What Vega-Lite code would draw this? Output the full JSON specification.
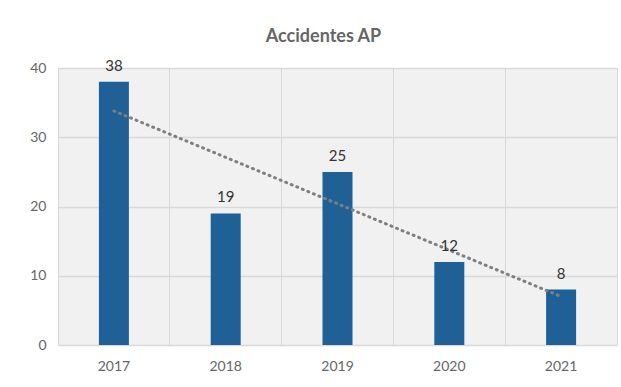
{
  "$schema": "https://vega.github.io/schema/vega-lite/v6.json",
  "width": 559,
  "height": 277,
  "autosize": {"type": "none"},
  "padding": {"left": 58, "top": 68, "right": 4, "bottom": 42},
  "background": "white",
  "title": {"text": "Accidentes AP", "font": "Lato", "fontSize": 18, "fontWeight": "bold", "color": "#666666", "offset": 13, "anchor": "middle", "dx": -14},
  "data": {"values": [
    {"year": 2017, "value": 38},
    {"year": 2018, "value": 19},
    {"year": 2019, "value": 25},
    {"year": 2020, "value": 12},
    {"year": 2021, "value": 8}
  ]},
  "encoding": {
    "x": {"field": "year", "type": "ordinal", "scale": {"paddingInner": 0, "paddingOuter": 0},
      "axis": {"title": null, "labelAngle": 0, "labelFont": "Lato", "labelFontSize": 14, "labelColor": "#666666", "labelPadding": 14, "ticks": false, "domain": false, "grid": true, "bandPosition": 0, "gridColor": "#d9d9d9", "gridWidth": 1}},
    "y": {"field": "value", "type": "quantitative", "scale": {"domain": [0, 40], "nice": false},
      "axis": {"title": null, "values": [0, 10, 20, 30, 40], "labelFont": "Lato", "labelFontSize": 14, "labelColor": "#666666", "labelPadding": 12, "ticks": false, "domain": false, "gridColor": "#d9d9d9", "gridWidth": 1.5}}
  },
  "layer": [
    {"mark": {"type": "bar", "size": 30, "color": "#1f6096"}},
    {"transform": [{"regression": "value", "on": "year"}],
     "mark": {"type": "line", "color": "#7f7f7f", "strokeDash": [1, 5], "strokeWidth": 3, "strokeCap": "round"}},
    {"mark": {"type": "text", "dy": -16, "font": "Lato", "fontSize": 15, "color": "#333333"},
     "encoding": {"text": {"field": "value", "type": "quantitative"}}}
  ],
  "config": {"view": {"fill": "#f1f1f1", "stroke": "#d9d9d9"}}
}
